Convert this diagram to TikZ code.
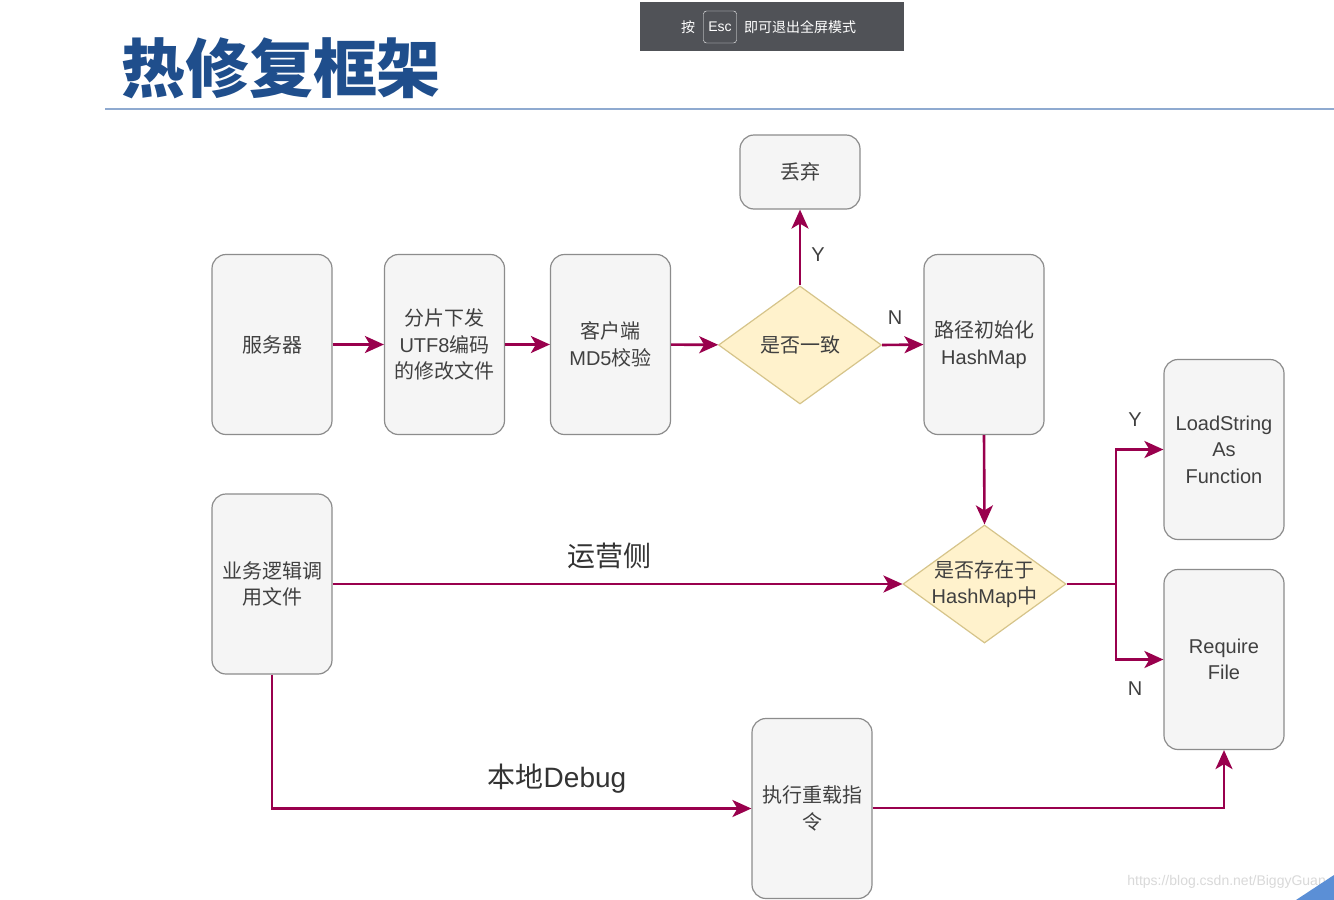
\documentclass[tikz,border=0pt]{standalone}
\usepackage{fontspec}
\setmainfont{Liberation Sans}
\newfontfamily\cjk{Noto Sans CJK SC}
\usetikzlibrary{shapes.geometric,arrows.meta,positioning}
\definecolor{boxfill}{HTML}{F5F5F5}
\definecolor{boxline}{HTML}{8C8C8C}
\definecolor{decfill}{HTML}{FFF2CC}
\definecolor{decline}{HTML}{D6C48A}
\definecolor{flow}{HTML}{99004D}
\definecolor{titleblue}{HTML}{1F4E8C}
\definecolor{rulecol}{HTML}{8FAAD0}
\definecolor{escgray}{HTML}{505257}
\definecolor{cornerblue}{HTML}{5B8FD6}

\begin{document}
\begin{tikzpicture}[x=1pt,y=-1pt,
    stepbox/.style={shape=rectangle, rounded corners=14pt, draw=boxline, fill=boxfill, line width=1.2pt,
                    minimum width=120pt, minimum height=180pt, inner sep=0pt, align=center,
                    font=\fontsize{20}{26.5}\selectfont, text=black!75},
    decision/.style={shape=diamond, draw=decline, fill=decfill, line width=1.2pt,
                     minimum width=163pt, minimum height=118pt, inner sep=0pt},
    dectext/.style={align=center, font=\fontsize{20}{26.5}\selectfont, text=black!75},
    flowline/.style={draw=flow, line width=2.6pt, -{Stealth[length=19pt,width=17pt,inset=5pt]}},
    flowplain/.style={draw=flow, line width=2.6pt},
    yn/.style={font=\fontsize{20}{24}\selectfont, text=black!75},
    pathlabel/.style={font=\fontsize{28}{32}\selectfont, text=black!80}]
    \useasboundingbox (0,0) rectangle (1334,900);
    \fill[white] (0,0) rectangle (1334,900);

    \node[font=\cjk\bfseries\fontsize{64}{70}\selectfont, text=titleblue] (title) at (281,68) {热修复框架};
    \draw[rulecol, line width=2pt] (105,109) -- (1334,109);

    \fill[escgray] (640,2) rectangle (904,51);
    \node[font=\cjk\fontsize{14}{16}\selectfont, text=white] (esc1) at (688,27) {按};
    \node[draw=white, rounded corners=3pt, minimum width=33pt, minimum height=32pt, inner sep=0pt,
          font=\fontsize{14}{16}\selectfont, text=white] (esckey) at (720,27) {Esc};
    \node[font=\cjk\fontsize{14}{16}\selectfont, text=white, anchor=west, inner sep=0pt] (esc2) at (744,27) {即可退出全屏模式};

    \node[stepbox] (server) at (272,344.5) {\cjk 服务器};
    \node[stepbox] (slice) at (444.5,344.5) {{\cjk 分片下发}\\UTF8{\cjk 编码}\\{\cjk 的修改文件}};
    \node[stepbox] (client) at (610.5,344.5) {{\cjk 客户端}\\MD5{\cjk 校验}};
    \node[decision, label={[dectext]center:{\cjk 是否一致}}] (same) at (800,345) {};
    \node[stepbox, minimum height=74pt] (drop) at (800,172) {\cjk 丢弃};
    \node[stepbox] (init) at (984,344.5) {{\cjk 路径初始化}\\HashMap};
    \node[stepbox] (load) at (1224,449.5) {LoadString\\As\\Function};
    \node[stepbox] (req) at (1224,659.5) {Require\\File};
    \node[decision, label={[dectext]center:{\cjk 是否存在于}\\HashMap{\cjk 中}}] (exist) at (984.5,584) {};
    \node[stepbox] (biz) at (272,584) {{\cjk 业务逻辑调}\\{\cjk 用文件}};
    \node[stepbox] (exec) at (812,808.5) {{\cjk 执行重载指}\\{\cjk 令}};
    \coordinate (split) at (1116,584);

    \draw[flowline] (server) -- (slice);
    \draw[flowline] (slice) -- (client);
    \draw[flowline] (client) -- (same);
    \draw[flowline] (same.north) -- (drop.south);
    \draw[flowline] (same.east) -- (init.west);
    \draw[flowline] (init.south) -- (exist.north);
    \draw[flowline] (biz.east |- exist.west) -- (exist.west);
    \draw[flowplain] (exist.east) -- (split);
    \draw[flowline] (split) |- (load.west);
    \draw[flowline] (split) |- (req.west);
    \draw[flowline] (biz.south) |- (exec.west);
    \draw[flowline] (exec.east |- 0,808) -| (req.south);

    \node[yn] (ylab1) at (818,255) {Y};
    \node[yn] (nlab1) at (895,318) {N};
    \node[yn] (ylab2) at (1135,420) {Y};
    \node[yn] (nlab2) at (1135,689) {N};
    \node[pathlabel] (ops) at (609,556) {\cjk 运营侧};
    \node[pathlabel] (debug) at (557,779) {{\cjk 本地}Debug};

    \node[font=\fontsize{14}{16}\selectfont, text=black!15, anchor=east, inner sep=0pt] (mark) at (1326,882) {https://blog.csdn.net/BiggyGuan};
    \fill[cornerblue] (1296,900) -- (1334,875) -- (1334,900) -- cycle;
\end{tikzpicture}
\end{document}
